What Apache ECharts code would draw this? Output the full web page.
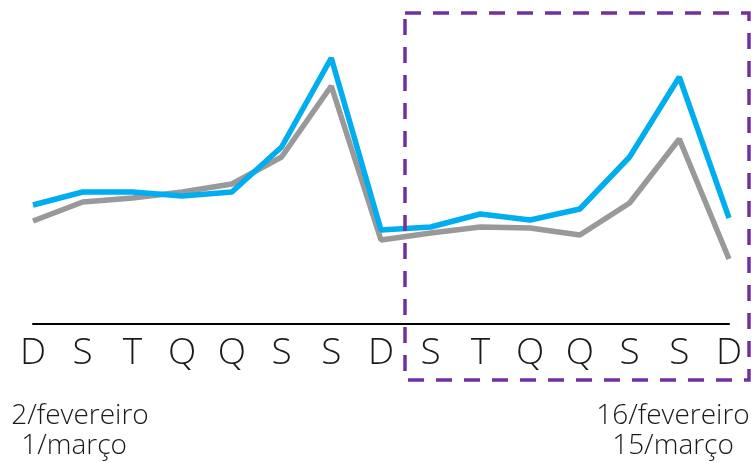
<!DOCTYPE html>
<html>
<head>
<meta charset="utf-8">
<script src="https://cdn.jsdelivr.net/npm/echarts@6/dist/echarts.min.js"></script>
<style>html,body{margin:0;padding:0;background:#fff}#c{width:751px;height:463px}</style>
</head>
<body>
<div id="c"></div>
<script>
const days = ['D','S','T','Q','Q','S','S','D','S','T','Q','Q','S','S','D'];
const blueSeries = [119,132,132,128,132,177,266,94,97,110,104,115,167,247,106];
const graySeries = [103,122,126,132,140,167,238,84,91,97,96,89,121,185,65];
const startLabel = ['2/fevereiro','1/março'];
const endLabel = ['16/fevereiro','15/março'];

const chart = echarts.init(document.getElementById('c'));
const FONT = '"Open Sans"';
chart.setOption({
  animation:false,
  grid:{left:33,right:22,top:24,bottom:139},
  xAxis:{type:'category',data:days,boundaryGap:false,
    axisLine:{lineStyle:{color:'#000',width:2}},
    axisTick:{show:false},
    axisLabel:{fontSize:37,fontFamily:FONT,fontWeight:300,color:'#1a1a1a',margin:11,interval:0}},
  yAxis:{type:'value',min:0,max:300,show:false,splitLine:{show:false}},
  series:[
    {type:'line',data:graySeries,symbol:'none',lineStyle:{color:'#999999',width:5.5}},
    {type:'line',data:blueSeries,symbol:'none',lineStyle:{color:'#00AEEF',width:5.5}}
  ],
  graphic:[
    {type:'rect',shape:{x:405,y:13,width:344,height:367},
     style:{fill:'none',stroke:'#7030A0',lineWidth:3.5,lineDash:[16,12]},z:10},
    {type:'text',x:80,y:416,style:{text:startLabel[0],fontSize:28,fontFamily:FONT,fontWeight:300,fill:'#1a1a1a',align:'center',verticalAlign:'middle'}},
    {type:'text',x:74,y:446,style:{text:startLabel[1],fontSize:28,fontFamily:FONT,fontWeight:300,fill:'#1a1a1a',align:'center',verticalAlign:'middle'}},
    {type:'text',x:673,y:416,style:{text:endLabel[0],fontSize:28,fontFamily:FONT,fontWeight:300,fill:'#1a1a1a',align:'center',verticalAlign:'middle'}},
    {type:'text',x:673,y:446,style:{text:endLabel[1],fontSize:28,fontFamily:FONT,fontWeight:300,fill:'#1a1a1a',align:'center',verticalAlign:'middle'}}
  ]
});
</script>
</body>
</html>
